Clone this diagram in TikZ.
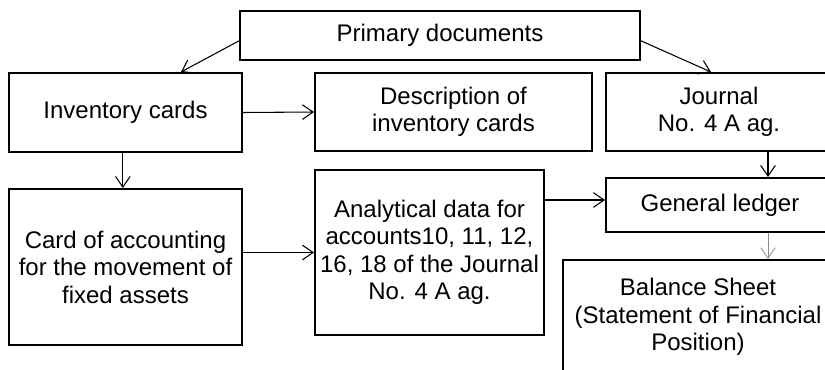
\documentclass[tikz,border=0pt]{standalone}
\usepackage{fontspec}
\setmainfont{Liberation Sans}
\usetikzlibrary{arrows.meta,calc}

\begin{document}
\begin{tikzpicture}[x=0.75pt,y=-0.75pt,
	box/.style={draw, line width=1.5pt, align=center, inner sep=0pt,
		font=\fontsize{18}{20.6}\selectfont},
	link/.style={line width=0.8pt, -{Straight Barb[length=8pt,width=11pt]}}]
	%%%%% START %%%%%
	
	\clip (0, 0) rectangle (825, 369);
	
	\node[box, minimum width=300pt, minimum height=36.75pt] (prim) at (440, 35.5) {Primary documents};
	
	\node[box, minimum width=174.75pt, minimum height=59.25pt] (inv) at (125.5, 112.5) {Inventory cards};
	\node[box, minimum width=207.75pt, minimum height=58.5pt] (desc) at (453.5, 112) {Description of\\inventory cards};
	\node[box, minimum width=169.5pt, minimum height=58.5pt] (jour) at (719, 112) {Journal\\No. 4 A ag.};
	
	\node[box, minimum width=174.75pt, minimum height=117pt] (card) at (125.5, 267) {Card of accounting\\for the movement of\\fixed assets};
	\node[box, minimum width=171.75pt, minimum height=123.75pt] (anal) at (429.5, 252.5) {Analytical data for\\accounts10, 11, 12,\\16, 18 of the Journal\\No. 4 A ag.};
	
	\node[box, minimum width=171pt, minimum height=40.5pt] (gl) at (720, 205) {General ledger};
	\node[box, minimum width=202.5pt, minimum height=85.5pt] (bal) at (698, 317) {Balance Sheet\\(Statement of Financial\\Position)};
	
	\draw[link] ([yshift=-4pt]prim.west) -- ([xshift=41.6pt]inv.north);
	\draw[link] ([yshift=-4pt]prim.east) -- ([xshift=-6pt]jour.north);
	
	\draw[link] (inv.east) -- (desc.west);
	\draw[link] ([xshift=-2pt]inv.south) -- ([xshift=-2pt]card.north);
	\draw[link] (anal.west -| card.east) -- (anal.west);
	\draw[link] ([yshift=3.75pt]gl.west -| anal.east) -- ([yshift=3.75pt]gl.west);
	
	\draw[link] ([xshift=36.75pt]jour.south) -- ([xshift=36.75pt]jour.south |- gl.north);
	\draw[link, black!45, line width=0.6pt] ([xshift=36pt]gl.south) -- ([xshift=36pt]gl.south |- bal.north);
	
	%%%%% END %%%%%
\end{tikzpicture}
\end{document}
